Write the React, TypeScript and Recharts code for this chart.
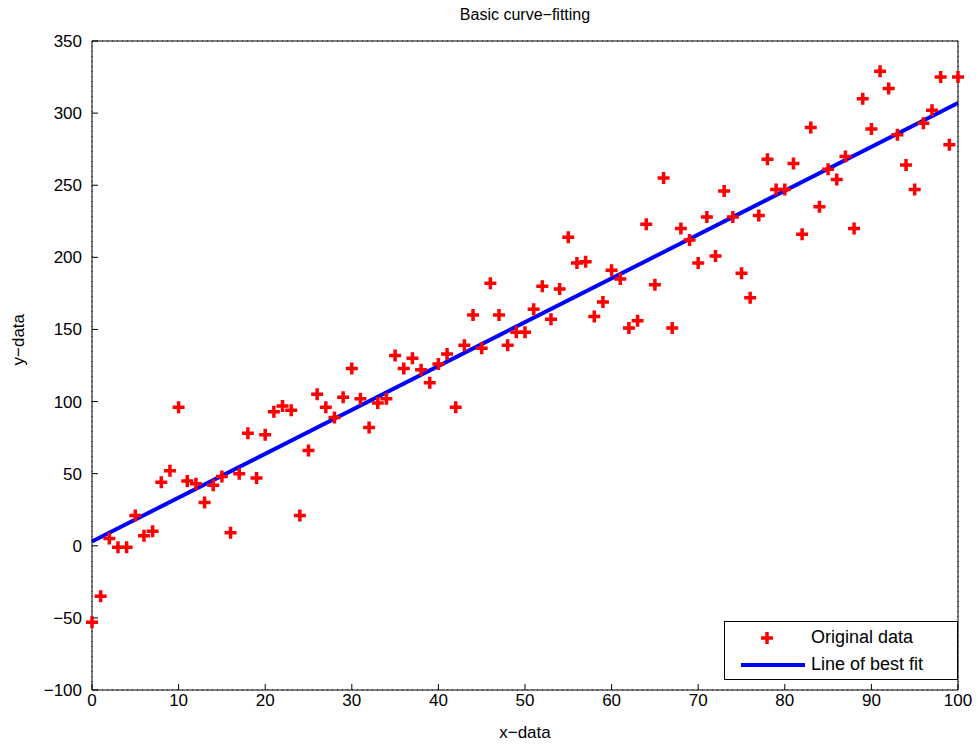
import React from 'react';
import {
  ComposedChart,
  Scatter,
  Line,
  XAxis,
  YAxis,
  CartesianGrid
} from 'recharts';

// Original data, x = 0..100
const xValues = Array.from({ length: 101 }, (_, i) => i);
const yValues = [
  -53, -35, 5, -1, -1, 21, 7, 10, 44, 52,
  96, 45, 43, 30, 42, 48, 9, 50, 78, 47,
  77, 93, 97, 94, 21, 66, 105, 96, 89, 103,
  123, 102, 82, 99, 102, 132, 123, 130, 122, 113,
  126, 133, 96, 139, 160, 137, 182, 160, 139, 148,
  148, 164, 180, 157, 178, 214, 196, 197, 159, 169,
  191, 185, 151, 156, 223, 181, 255, 151, 220, 212,
  196, 228, 201, 246, 228, 189, 172, 229, 268, 247,
  247, 265, 216, 290, 235, 261, 254, 270, 220, 310,
  289, 329, 317, 285, 264, 247, 293, 302, 325, 278,
  325
];

// Line of best fit end points
const fitX = [0, 100];
const fitY = [3, 307];

const xTicks = [0, 10, 20, 30, 40, 50, 60, 70, 80, 90, 100];
const yTicks = [-100, -50, 0, 50, 100, 150, 200, 250, 300, 350];

const scatterData = xValues.map((x, i) => ({ x, y: yValues[i] }));
const fitData = fitX.map((x, i) => ({ x, fit: fitY[i] }));

const FONT = '"Liberation Sans", Arial, Helvetica, sans-serif';

const minus = (v: number) => String(v).replace('-', '\u2212');

const PlusShape = (props: any) => {
  const { cx, cy } = props;
  if (cx == null || cy == null) return null;
  const s = 6;
  return (
    <path
      d={`M${cx - s},${cy} L${cx + s},${cy} M${cx},${cy - s} L${cx},${cy + s}`}
      stroke="#ff0000"
      strokeWidth={3.5}
      fill="none"
    />
  );
};

const NoTick = () => <g />;

const LegendBox = () => (
  <div
    style={{
      position: 'absolute',
      left: 724,
      top: 621,
      width: 234,
      height: 59,
      border: '1px solid #000',
      background: '#fff',
      fontFamily: FONT,
      fontSize: 18,
      color: '#000',
      boxSizing: 'border-box',
      paddingTop: 2
    }}
  >
    <div style={{ display: 'flex', alignItems: 'center', height: 27 }}>
      <svg width={80} height={20}>
        <path d="M42,4 L42,16 M36,10 L48,10" stroke="#ff0000" strokeWidth={3.5} />
      </svg>
      <span style={{ marginLeft: 6 }}>Original data</span>
    </div>
    <div style={{ display: 'flex', alignItems: 'center', height: 27 }}>
      <svg width={80} height={20}>
        <line x1={16} y1={10} x2={80} y2={10} stroke="#0000ff" strokeWidth={4} />
      </svg>
      <span style={{ marginLeft: 6 }}>Line of best fit</span>
    </div>
  </div>
);

const App: React.FC = () => {
  return (
    <div style={{ position: 'absolute', left: 0, top: 0, width: 978, height: 744, background: '#fff' }}>
      <ComposedChart
        width={978}
        height={744}
        margin={{ top: 40, right: 19, left: 32, bottom: 24 }}
        style={{ fontFamily: FONT }}
      >
        <CartesianGrid stroke="#000" strokeDasharray="1 4" strokeOpacity={0.8} />
        <XAxis
          xAxisId="main"
          type="number"
          dataKey="x"
          domain={[0, 100]}
          ticks={xTicks}
          stroke="#000"
          tickSize={-6}
          tickMargin={10}
          height={30}
          tick={{ fill: '#000', fontSize: 17 }}
          label={{ value: 'x\u2212data', position: 'insideBottom', offset: -18, fill: '#000', fontSize: 17 }}
        />
        <XAxis
          xAxisId="top"
          orientation="top"
          type="number"
          dataKey="x"
          domain={[0, 100]}
          ticks={xTicks}
          stroke="#000"
          tickSize={-6}
          height={1}
          tick={NoTick}
        />
        <YAxis
          yAxisId="main"
          type="number"
          domain={[-100, 350]}
          ticks={yTicks}
          stroke="#000"
          tickSize={-6}
          tickMargin={16}
          width={60}
          tickFormatter={minus}
          tick={{ fill: '#000', fontSize: 17 }}
          label={{ value: 'y\u2212data', angle: -90, position: 'insideLeft', offset: -14, fill: '#000', fontSize: 17 }}
        />
        <YAxis
          yAxisId="right"
          orientation="right"
          type="number"
          domain={[-100, 350]}
          ticks={yTicks}
          stroke="#000"
          tickSize={-6}
          width={1}
          tick={NoTick}
        />
        <Scatter
          name="Original data"
          data={scatterData}
          dataKey="y"
          xAxisId="main"
          yAxisId="main"
          shape={PlusShape}
          isAnimationActive={false}
        />
        <Line
          name="Line of best fit"
          data={fitData}
          dataKey="fit"
          xAxisId="main"
          yAxisId="main"
          type="linear"
          stroke="#0000ff"
          strokeWidth={4}
          dot={false}
          activeDot={false}
          isAnimationActive={false}
        />
        <text
          x={525}
          y={20}
          textAnchor="middle"
          fontSize={16}
          fill="#000"
          style={{ fontFamily: FONT }}
        >
          Basic curve{'\u2212'}fitting
        </text>
      </ComposedChart>
      <LegendBox />
    </div>
  );
};

export default App;
